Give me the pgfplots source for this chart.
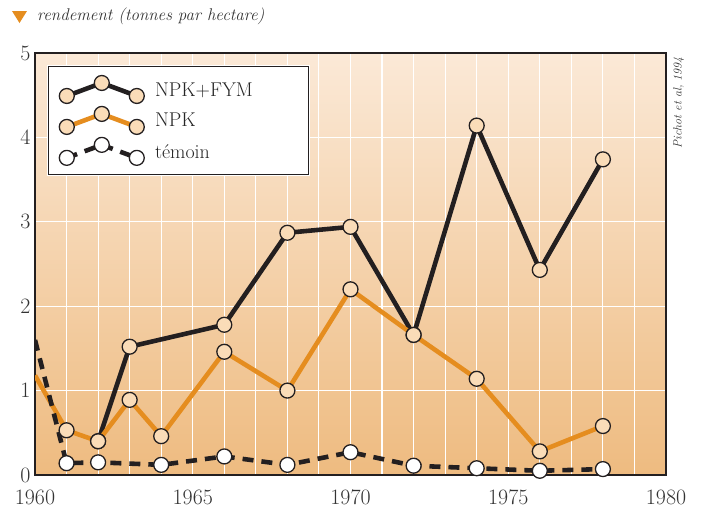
\documentclass[border=0pt]{standalone}
\usepackage{pgfplots}
\pgfplotsset{compat=1.18}
\usepackage{fontspec}
\definecolor{inkblack}{HTML}{231F20}
\definecolor{npkorange}{HTML}{E58D1F}
\definecolor{markcream}{HTML}{FADCB8}
\definecolor{bgtop}{HTML}{FBE9D7}
\definecolor{bgbottom}{HTML}{EEBB80}
\definecolor{txtgray}{HTML}{333333}

\begin{document}
\begin{tikzpicture}
  \path[use as bounding box] (-35bp,-38bp) rectangle (668bp,475bp);
  \begin{axis}[
      scale only axis,
      width=631bp, height=422bp,
      xmin=1960, xmax=1980, ymin=0, ymax=5,
      xtick={1960,1965,...,1980},
      minor xtick={1960,...,1980},
      ytick={0,...,5},
      /pgf/number format/.cd, 1000 sep={}, assume math mode=true, /pgfplots/.cd,
      major tick length=0pt, minor tick length=0pt,
      tick label style={font=\fontsize{22}{24}\selectfont, text=txtgray},
      yticklabel style={xshift=-1bp},
      xticklabel style={yshift=-11bp},
      xmajorgrids, xminorgrids, ymajorgrids,
      grid style={white, line width=1.1pt},
      minor grid style={white, line width=1.1pt},
      axis line style={inkblack, line width=1.6pt},
      axis background/.style={top color=bgtop, bottom color=bgbottom},
      clip=true,
      legend cell align=left,
      legend style={at={(rel axis cs:0,1)}, anchor=north west,
        xshift=13bp, yshift=-13bp,
        draw=inkblack, line width=1pt, fill=white,
        preaction={draw=white, line width=3pt},
        font=\fontsize{20}{22}\selectfont, text=black!85,
        row sep=3bp, inner xsep=8bp, inner ysep=9bp},
      legend image code/.code={
        \draw[#1, mark phase=1, mark repeat=1]
          plot coordinates {(0bp,-6bp) (35bp,7bp) (70bp,-6bp)};
        \path (-8bp,0bp) (84bp,0bp);
      },
      every axis plot/.append style={line width=4.6pt, line join=round},
    ]
    \coordinate (tl) at (rel axis cs:0,1);
    \coordinate (tr) at (rel axis cs:1,1);

    % NPK+FYM
    \addplot[inkblack, mark=*, mark size=7.5pt,
      mark options={solid, fill=markcream, draw=inkblack, line width=1.3pt}]
      coordinates {
        (1962,0.40) (1963,1.52) (1966,1.78) (1968,2.87) (1970,2.94)
        (1972,1.66) (1974,4.14) (1976,2.43) (1978,3.74)
      };
    \addlegendentry{\makebox[143bp][l]{NPK+FYM}}

    % NPK
    \addplot[npkorange, mark=*, mark size=7.5pt, mark phase=2,
      mark options={solid, fill=markcream, draw=inkblack, line width=1.3pt}]
      coordinates {
        (1960,1.18) (1961,0.53) (1962,0.40) (1963,0.89) (1964,0.46)
        (1966,1.46) (1968,1.00) (1970,2.20) (1972,1.66) (1974,1.14)
        (1976,0.28) (1978,0.58)
      };
    \addlegendentry{NPK}

    % temoin
    \addplot[inkblack, dash pattern=on 11bp off 8bp, mark=*, mark size=7.5pt, mark phase=2,
      mark options={solid, fill=white, draw=inkblack, line width=1.3pt}]
      coordinates {
        (1960,1.60) (1961,0.14) (1962,0.15) (1964,0.12) (1966,0.22)
        (1968,0.12) (1970,0.27) (1972,0.11) (1974,0.08) (1976,0.05)
        (1978,0.07)
      };
    \addlegendentry{témoin}
  \end{axis}

  \fill[npkorange, shift={(tl)}] (-23bp,42bp) -- (-8bp,42bp) -- (-15.5bp,30bp) -- cycle;
  \node[anchor=west, text=txtgray, font=\itshape\fontsize{17}{19}\selectfont, inner sep=0pt]
    at ([shift={(2bp,37bp)}]tl) {rendement (tonnes par hectare)};
  \node[rotate=90, anchor=north east, text=txtgray, font=\itshape\fontsize{12}{14}\selectfont, inner sep=0pt]
    at ([shift={(7bp,-4bp)}]tr) {Pichot et al, 1994};
\end{tikzpicture}
\end{document}
